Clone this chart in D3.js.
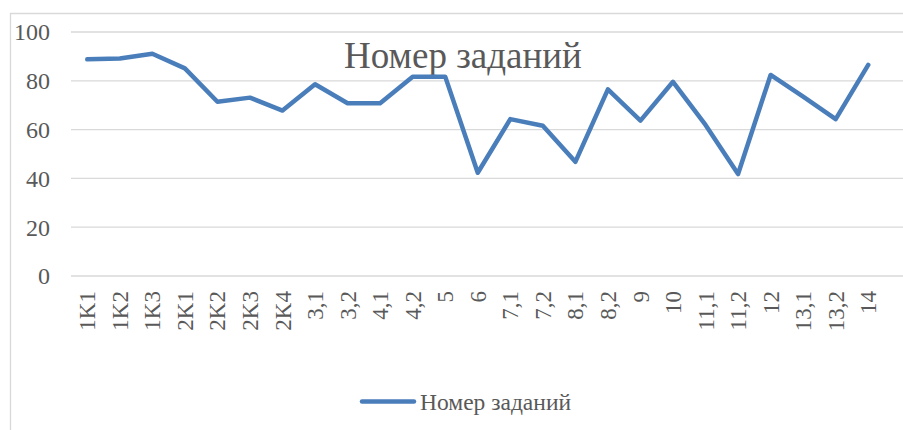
<!DOCTYPE html>
<html><head><meta charset="utf-8">
<script src="https://cdn.jsdelivr.net/npm/d3@7"></script>
<style>body{margin:0;background:#fff}</style>
</head><body>
<svg id="c" width="903" height="430" font-family="Times New Roman"></svg>
<script>
const categories = ["1K1","1K2","1K3","2K1","2K2","2K3","2K4","3,1","3,2","4,1","4,2","5","6","7,1","7,2","8,1","8,2","9","10","11,1","11,2","12","13,1","13,2","14"];
const values = [88.8,89.1,91.1,85.1,71.4,73.1,67.8,78.6,70.8,70.8,81.7,81.7,42.3,64.3,61.6,46.8,76.5,63.7,79.6,61.9,41.8,82.4,73.5,64.3,86.5];
const yTicks = [0,20,40,60,80,100];
const seriesName = "Номер заданий";
const title = "Номер заданий";

const W = 903, H = 430;
const svg = d3.select("#c");
const grey = "#595959";
const lineColor = "#4a7ebb";
const FF = "\"Liberation Serif\", \"Times New Roman\", serif";

// frame
svg.append("path").attr("d", `M10.5,${H} V13.5 H${W}`)
  .attr("fill","none").attr("stroke","#d9d9d9").attr("stroke-width",1.3);

const x = d3.scaleBand().domain(categories).range([71, 884.5]);
const y = d3.scaleLinear().domain([0,100]).range([276, 32]);

// gridlines
svg.append("g").selectAll("line").data(yTicks).join("line")
  .attr("x1",71).attr("x2",W)
  .attr("y1",d=>y(d)).attr("y2",d=>y(d))
  .attr("stroke","#d9d9d9").attr("stroke-width",1.3);

// y labels
svg.append("g").selectAll("text").data(yTicks).join("text")
  .attr("x",50).attr("y",d=>y(d)).attr("dy","0.35em")
  .attr("text-anchor","end").style("font-family",FF).style("font-size","24px")
  .style("fill",grey).text(d=>d);

// x labels
svg.append("g").selectAll("text").data(categories).join("text")
  .attr("transform",d=>`translate(${x(d)+x.bandwidth()/2},291) rotate(-90)`)
  .attr("dy","0.35em").attr("text-anchor","end")
  .style("font-family",FF).style("font-size","23px").style("fill",grey).text(d=>d);

// title
svg.append("text").attr("x",463).attr("y",67.5).attr("text-anchor","middle")
  .style("font-family",FF).style("font-size","37px").style("fill",grey).text(title);

// line
const line = d3.line().x((d,i)=>x(categories[i])+x.bandwidth()/2).y(d=>y(d));
svg.append("path").datum(values).attr("d",line)
  .attr("fill","none").attr("stroke",lineColor).attr("stroke-width",4.5)
  .attr("stroke-linejoin","round").attr("stroke-linecap","round");

// legend
svg.append("line").attr("x1",362).attr("x2",414).attr("y1",401.5).attr("y2",401.5)
  .attr("stroke",lineColor).attr("stroke-width",4.5).attr("stroke-linecap","round");
svg.append("text").attr("x",420).attr("y",410)
  .style("font-family",FF).style("font-size","23.5px").style("fill",grey).text(seriesName);
</script>
</body></html>
